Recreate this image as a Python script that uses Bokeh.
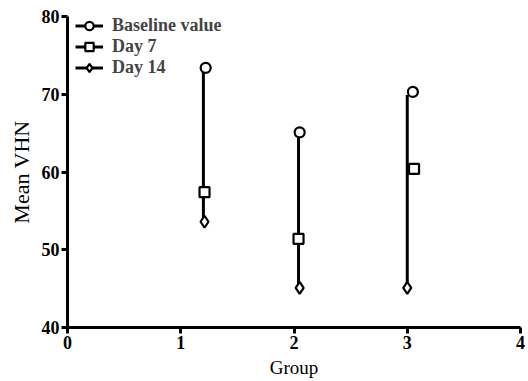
from bokeh.plotting import figure
from bokeh.models import Range1d, FixedTicker, Legend, LegendItem
from bokeh.embed import file_html
from bokeh.resources import INLINE

# Data
series_names = ["Baseline value", "Day 7", "Day 14"]
baseline_x = [1.22, 2.05, 3.05]
baseline_y = [73.4, 65.1, 70.3]
day7_x = [1.21, 2.04, 3.06]
day7_y = [57.4, 51.4, 60.4]
day14_x = [1.21, 2.05, 3.0]
day14_y = [53.6, 45.1, 45.1]
range_x = [1.2, 2.04, 3.0]
range_low = [53.6, 45.1, 45.1]
range_high = [73.4, 65.1, 69.9]
x_ticks = [0, 1, 2, 3, 4]
y_ticks = [40, 50, 60, 70, 80]

FONT = "Liberation Serif"

p = figure(width=526, height=380, output_backend="svg", toolbar_location=None,
           x_range=Range1d(0, 4), y_range=Range1d(40, 80),
           min_border_left=67, min_border_right=6, min_border_top=16, min_border_bottom=52)
p.outline_line_color = None
p.grid.visible = False

p.segment(x0=range_x, y0=range_low, x1=range_x, y1=range_high, line_color="black", line_width=3)

items = []
specs = [(baseline_x, baseline_y, "circle"), (day7_x, day7_y, "square"), (day14_x, day14_y, "diamond")]
for name, (xs, ys, m) in zip(series_names, specs):
    # legend-only line, kept outside the visible range
    ln = p.line(x=[-10, -9], y=[0, 0], line_color="black", line_width=3)
    sz = 12 if m == "diamond" else 10
    sc = p.scatter(x=xs, y=ys, marker=m, size=sz, fill_color="white", line_color="black", line_width=2.2)
    items.append(LegendItem(label=name, renderers=[ln, sc]))

legend = Legend(items=items, location=(8, 249), padding=0, spacing=0, margin=0,
                label_height=21, glyph_height=21, glyph_width=28, label_standoff=9,
                border_line_color=None, background_fill_alpha=0,
                label_text_font=FONT, label_text_font_size="18px", label_text_font_style="bold")
p.add_layout(legend)

for ax in (p.xaxis, p.yaxis):
    ax.axis_line_width = 3
    ax.axis_line_color = "black"
    ax.major_tick_line_width = 3
    ax.major_tick_out = 6
    ax.major_tick_in = 0
    ax.minor_tick_line_color = None
    ax.major_label_text_font = FONT
    ax.major_label_text_font_size = "18px"
    ax.major_label_text_font_style = "bold"
    ax.major_label_text_color = "black"
    ax.axis_label_text_font = FONT
    ax.axis_label_text_font_style = "normal"
    ax.axis_label_text_color = "black"

p.xaxis.axis_label_text_font_size = "19px"
p.yaxis.axis_label_text_font_size = "22px"
p.xaxis.ticker = FixedTicker(ticks=x_ticks)
p.yaxis.ticker = FixedTicker(ticks=y_ticks)
p.xaxis.axis_label = "Group"
p.yaxis.axis_label = "Mean VHN"
p.xaxis.major_label_standoff = 2
p.yaxis.major_label_standoff = 2
p.xaxis.axis_label_standoff = 5
p.yaxis.axis_label_standoff = 5

open("out.html", "w").write(file_html(p, INLINE))
